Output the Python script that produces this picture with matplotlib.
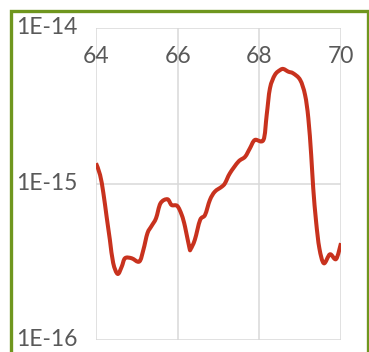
import numpy as np
import matplotlib
matplotlib.use("Agg")
import matplotlib.pyplot as plt
from matplotlib import transforms
from matplotlib.patches import Rectangle, PathPatch
from matplotlib.path import Path

# measured spectrum (x in units, signal on log scale)
x = [64.00, 64.10, 64.18, 64.26, 64.34, 64.42, 64.53, 64.63, 64.71, 64.87,
     65.06, 65.16, 65.26, 65.36, 65.47, 65.58, 65.75, 65.85, 65.99, 66.10,
     66.18, 66.29, 66.32, 66.42, 66.55, 66.67, 66.79, 66.91, 67.08, 67.16,
     67.28, 67.49, 67.65, 67.77, 67.89, 68.10, 68.18, 68.26, 68.38, 68.51,
     68.59, 68.71, 68.83, 69.00, 69.12, 69.20, 69.27, 69.32, 69.39, 69.47,
     69.58, 69.73, 69.88, 70.00]
signal = [1.355e-15, 1.14e-15, 8.75e-16, 6.16e-16, 4.38e-16, 3.12e-16, 2.65e-16,
          2.95e-16, 3.34e-16, 3.34e-16, 3.18e-16, 3.78e-16, 4.83e-16, 5.37e-16,
          6.02e-16, 7.51e-16, 7.97e-16, 7.32e-16, 7.22e-16, 6.32e-16, 5.32e-16,
          3.87e-16, 3.83e-16, 4.38e-16, 5.87e-16, 6.32e-16, 7.89e-16, 8.91e-16,
          9.59e-16, 1.01e-15, 1.17e-15, 1.39e-15, 1.49e-15, 1.69e-15, 1.91e-15,
          1.91e-15, 2.76e-15, 4.09e-15, 4.98e-15, 5.36e-15, 5.44e-15, 5.23e-15,
          5.1e-15, 4.63e-15, 3.71e-15, 2.63e-15, 1.53e-15, 9.37e-16, 5.73e-16,
          3.87e-16, 3.1e-16, 3.54e-16, 3.3e-16, 4.17e-16]

xticks = [64, 66, 68, 70]
yticks = [1e-16, 1e-15, 1e-14]
ylabels = ["1E-16", "1E-15", "1E-14"]

plt.rcParams['font.family'] = ['Lato', 'DejaVu Sans']
text_color = "#595959"
grid_color = "#d9d9d9"


def smooth_path(xs, ys):
    # Catmull-Rom through the points, done in log(y) so the bezier
    # control points land correctly on the log axis
    px = np.asarray(xs, float)
    py = np.log10(ys)
    n = len(px)
    verts = [(px[0], py[0])]
    codes = [Path.MOVETO]
    for i in range(n - 1):
        i0, i3 = max(i - 1, 0), min(i + 2, n - 1)
        c1 = (px[i] + (px[i + 1] - px[i0]) / 6, py[i] + (py[i + 1] - py[i0]) / 6)
        c2 = (px[i + 1] - (px[i3] - px[i]) / 6, py[i + 1] - (py[i3] - py[i]) / 6)
        verts += [c1, c2, (px[i + 1], py[i + 1])]
        codes += [Path.CURVE4] * 3
    verts = [(vx, 10 ** vy) for vx, vy in verts]
    return Path(verts, codes)


W, H = 369, 352
fig = plt.figure(figsize=(W / 100, H / 100), dpi=100)
ax = fig.add_axes([96 / W, 12 / H, 245 / W, 312.3 / H])

ax.set_yscale("log")
ax.set_xlim(64, 70)
ax.set_ylim(1e-16, 1e-14)

ax.add_patch(PathPatch(smooth_path(x, signal), fill=False, edgecolor="#c8321e",
                       lw=2.9, joinstyle="round", capstyle="butt", zorder=3))

ax.set_xticks(xticks)
ax.set_yticks(yticks)
ax.yaxis.set_minor_locator(plt.NullLocator())
ax.tick_params(length=0, labelbottom=False, labelleft=False)
ax.grid(True, color=grid_color, lw=1.1)
for sp in ax.spines.values():
    sp.set_visible(False)

# x labels sit just under the top edge
for v in xticks:
    ax.text(v, 0.909, str(v), transform=ax.get_xaxis_transform(),
            ha="center", va="center", fontsize=16.5, color=text_color)

# y labels flush left in the chart area
ytrans = transforms.blended_transform_factory(fig.transFigure, ax.transData)
for v, lab in zip(yticks, ylabels):
    fig.text(16 / W, v, lab, transform=ytrans, ha="left", va="center",
             fontsize=16.5, color=text_color)

# chart border
fig.patches.append(Rectangle((10.5 / W, -0.1), (367.5 - 10.5) / W,
                             (H - 11) / H + 0.1, transform=fig.transFigure,
                             fill=False, edgecolor="#6f961e", lw=2.4))

fig.savefig("out.png", dpi=100)
